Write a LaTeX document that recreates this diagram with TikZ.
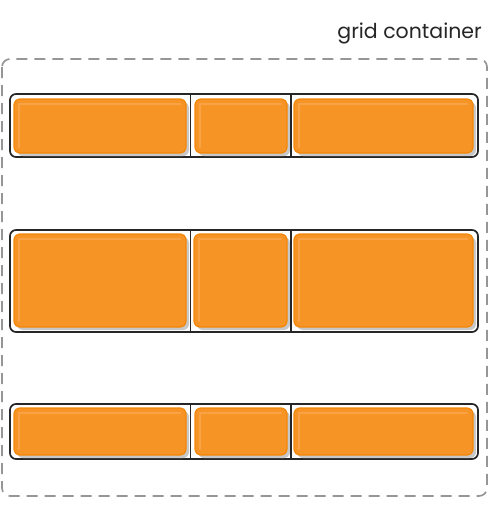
\documentclass[tikz,border=0pt]{standalone}
\usepackage{fontspec}
\setmainfont{Poppins}
\definecolor{org}{RGB}{247,148,38}
\definecolor{orgedge}{RGB}{242,135,10}
\definecolor{orghi}{RGB}{250,170,85}
\definecolor{shad}{RGB}{200,200,200}
\definecolor{dashgray}{RGB}{150,150,150}
\tikzset{
  container/.style={draw=dashgray, line width=1.7pt, dash pattern=on 11pt off 7pt, rounded corners=8pt},
  rowbox/.style={draw=black!85, line width=1.7pt, rounded corners=6pt},
  divider/.style={draw=black!85, line width=1.3pt},
  cellshadow/.style={fill=shad, rounded corners=6pt},
  cellbox/.style={fill=org, draw=orgedge, line width=1.2pt, rounded corners=6pt},
  cellhi/.style={draw=orghi, line width=2.2pt, line cap=round, opacity=0.7},
}
\newcommand{\cellat}[5]{% name x1 y1 x2 y2
  \fill[cellshadow] (#2+3,#3+3) rectangle (#4+3,#5+3);
  \draw[cellbox] (#2,#3) rectangle (#4,#5);
  \draw[cellhi] (#2+5,#5-6) -- (#2+5,#3+5) -- (#4-6,#3+5);
  \coordinate (#1) at ({(#2+#4)/2},{(#3+#5)/2});
}
\begin{document}
\begin{tikzpicture}[x=1pt,y=-1pt]
\useasboundingbox (0,0) rectangle (490,520);
\node[anchor=base east, font=\fontsize{20.5}{22}\selectfont, text=black!85, inner sep=0pt] (title) at (482,38) {grid container};
\draw[container] (2,59) rectangle (487,496);
% row 1
\draw[rowbox] (10,94) rectangle (478,157);
\cellat{a1}{14}{99}{186}{153}
\cellat{a2}{195}{99}{287}{153}
\cellat{a3}{294}{99}{473}{153}
\coordinate (d1t) at (190.5,94); \coordinate (d1b) at (190.5,157);
\coordinate (d2t) at (291,94); \coordinate (d2b) at (291,157);
\draw[divider] (d1t) -- (d1b); \draw[divider] (d2t) -- (d2b);
% row 2
\draw[rowbox] (10,230) rectangle (478,332);
\cellat{b1}{14}{234}{186}{327}
\cellat{b2}{194}{234}{287}{327}
\cellat{b3}{294}{234}{473}{327}
\coordinate (e1t) at (190.5,230); \coordinate (e1b) at (190.5,332);
\coordinate (e2t) at (291,230); \coordinate (e2b) at (291,332);
\draw[divider] (e1t) -- (e1b); \draw[divider] (e2t) -- (e2b);
% row 3
\draw[rowbox] (10,404) rectangle (478,459);
\cellat{c1}{14}{408}{186}{455}
\cellat{c2}{195}{408}{287}{455}
\cellat{c3}{294}{408}{473}{455}
\coordinate (f1t) at (190.5,404); \coordinate (f1b) at (190.5,459);
\coordinate (f2t) at (291,404); \coordinate (f2b) at (291,459);
\draw[divider] (f1t) -- (f1b); \draw[divider] (f2t) -- (f2b);
\end{tikzpicture}
\end{document}
